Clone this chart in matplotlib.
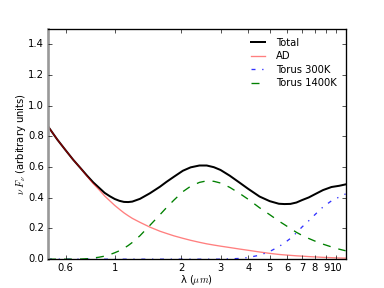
import matplotlib
matplotlib.use("Agg")
import matplotlib.pyplot as plt
from matplotlib.ticker import FixedLocator, FixedFormatter, NullFormatter

plt.style.use("classic")

# wavelength grid (micron) and values
wl = [0.5, 0.55, 0.6, 0.65, 0.7, 0.75, 0.8, 0.85, 0.9, 0.95, 1.0, 1.05,
      1.1, 1.15, 1.2, 1.3, 1.44, 1.6, 1.71, 1.85, 2.03, 2.2, 2.41, 2.6,
      2.8, 3.0, 3.3, 3.66, 4.0, 4.5, 5.0, 5.5, 5.83, 6.2, 6.6, 7.0, 7.5,
      8.0, 8.7, 9.5, 10.3, 11.0]

total = [0.865, 0.78, 0.71, 0.647, 0.594, 0.544, 0.50, 0.465, 0.432, 0.41,
         0.392, 0.38, 0.373, 0.372, 0.375, 0.393, 0.429, 0.472, 0.503, 0.537,
         0.576, 0.598, 0.61, 0.61, 0.599, 0.581, 0.544, 0.498, 0.458, 0.408,
         0.378, 0.361, 0.359, 0.36, 0.369, 0.385, 0.402, 0.423, 0.45, 0.47,
         0.478, 0.487]

ad = [0.865, 0.78, 0.71, 0.647, 0.594, 0.54, 0.492, 0.452, 0.412, 0.38,
      0.35, 0.325, 0.302, 0.283, 0.266, 0.24, 0.209, 0.182, 0.168, 0.152,
      0.136, 0.123, 0.11, 0.10, 0.092, 0.085, 0.076, 0.066, 0.058, 0.047,
      0.038, 0.031, 0.028, 0.025, 0.022, 0.02, 0.017, 0.015, 0.012, 0.01,
      0.008, 0.007]

torus300 = [0, 0, 0, 0, 0, 0, 0, 0, 0, 0,
            0, 0, 0, 0, 0, 0, 0, 0, 0, 0,
            0, 0, 0, 0, 0, 0, 0.002, 0.005, 0.011, 0.026,
            0.05, 0.082, 0.106, 0.135, 0.172, 0.21, 0.25, 0.29, 0.34, 0.38,
            0.405, 0.425]

torus1400 = [0, 0, 0, 0, 0.001, 0.003, 0.008, 0.013, 0.02, 0.03,
             0.042, 0.055, 0.071, 0.089, 0.109, 0.153, 0.22, 0.29, 0.335, 0.385,
             0.44, 0.475, 0.50, 0.51, 0.507, 0.496, 0.468, 0.428, 0.39, 0.335,
             0.29, 0.248, 0.225, 0.20, 0.175, 0.155, 0.135, 0.118, 0.098, 0.08,
             0.065, 0.055]

xticks = [0.6, 1, 2, 3, 4, 5, 6, 7, 8, 9, 10]
xticklabels = ["0.6", "1", "2", "3", "4", "5", "6", "7", "8", "9", "10"]
yticks = [0.0, 0.2, 0.4, 0.6, 0.8, 1.0, 1.2, 1.4]

fig = plt.figure(figsize=(4, 3), dpi=96, facecolor="white")
ax = fig.add_axes([0.125, 0.1, 0.775, 0.8])

ax.plot(wl, total, color="black", lw=1.5, label="Total")
ax.plot(wl, ad, color="red", alpha=0.5, lw=1, label="AD")
ax.plot(wl, torus300, color="blue", ls="-.", lw=1, label="Torus 300K", alpha=0.8)
ax.plot(wl, torus1400, color="green", ls="--", lw=1, label="Torus 1400K")

ax.set_xscale("log")
ax.set_xlim(0.5, 11)
ax.set_ylim(0, 1.5)
ax.xaxis.set_major_locator(FixedLocator(xticks))
ax.xaxis.set_major_formatter(FixedFormatter(xticklabels))
ax.xaxis.set_minor_formatter(NullFormatter())
ax.set_yticks(yticks)
ax.set_yticklabels(["%.1f" % v for v in yticks])
ax.tick_params(labelsize=7.5, direction="in", length=3, pad=3)
ax.tick_params(which="minor", length=0)

ax.spines["left"].set_color("0.6")
ax.spines["left"].set_linewidth(2)

ax.set_xlabel(r"λ ($\mu m$)", fontsize=7.5, labelpad=0)
ax.set_ylabel(r"$\nu\ F_\nu$ (arbitrary units)", fontsize=7.5, labelpad=0)

leg = ax.legend(loc="upper right", frameon=False, fontsize=7.5,
                handlelength=2, labelspacing=0.35)

fig.savefig("out.png", dpi=96, facecolor="white")
